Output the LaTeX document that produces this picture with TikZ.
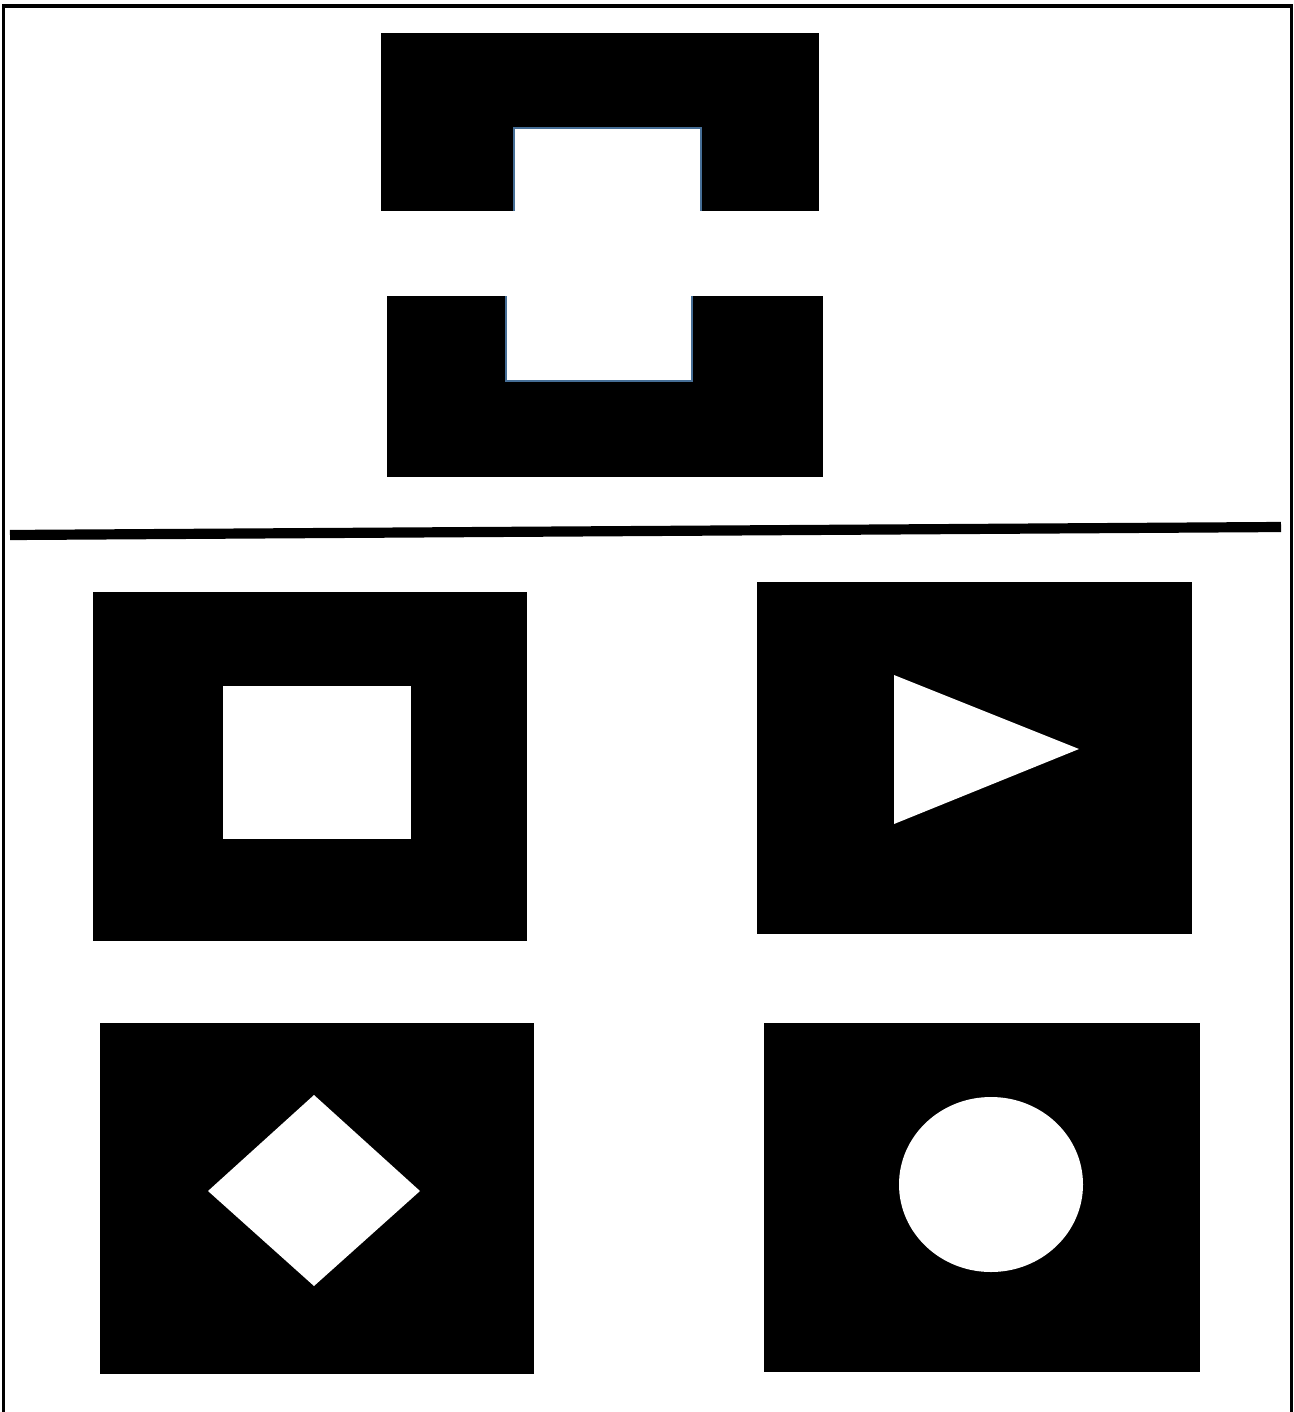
\documentclass[tikz,border=0pt]{standalone}
\definecolor{notchedge}{RGB}{70,110,150}
\tikzset{
  blk/.style={fill=black, draw=none},
  hole/.style={fill=white, draw=none},
  notchline/.style={draw=notchedge, line width=0.7pt},
  frameline/.style={line width=0.9pt, black},
}
\begin{document}
\begin{tikzpicture}[x=0.01cm, y=-0.01cm]
\useasboundingbox (0,0) rectangle (1293,1412);
\fill[white] (0,0) rectangle (1293,1412);
% frame (open at bottom)
\coordinate (fbl) at (3.5,1412);
\coordinate (ftl) at (3.5,6);
\coordinate (ftr) at (1291.5,6);
\coordinate (fbr) at (1291.5,1412);
\draw[frameline] (fbl) -- (ftl) -- (ftr) -- (fbr);
% top shape
\fill[blk] (381,33) rectangle (819,211);
\fill[hole] (514,128) rectangle (701,212);
\draw[notchline] (514,211) -- (514,128) -- (701,128) -- (701,211);
% second shape
\fill[blk] (387,296) rectangle (823,477);
\fill[hole] (506,295) rectangle (692,381);
\draw[notchline] (506,296) -- (506,381) -- (692,381) -- (692,296);
% divider line
\coordinate (la) at (10,535);
\coordinate (lb) at (1281,527);
\draw[line width=2.9pt, black] (la) -- (lb);
% box 1
\fill[blk] (93,592) rectangle (527,941);
\fill[hole] (223,686) rectangle (411,839);
% box 2
\fill[blk] (757,582) rectangle (1192,934);
\fill[hole] (894,675) -- (1079,749) -- (894,824) -- cycle;
% box 3
\fill[blk] (100,1023) rectangle (534,1374);
\fill[hole] (314,1095) -- (420,1191) -- (314,1286) -- (208,1191) -- cycle;
% box 4
\fill[blk] (764,1023) rectangle (1200,1372);
\fill[hole] (991,1184.5) ellipse [x radius=92, y radius=87.5];
\end{tikzpicture}
\end{document}
